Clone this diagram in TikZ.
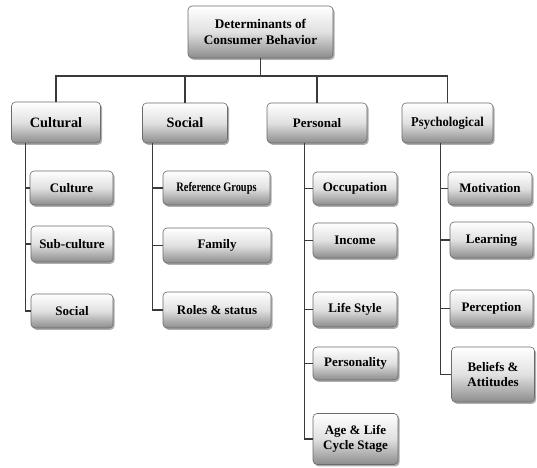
\documentclass[tikz,border=0pt]{standalone}
\usepackage{fontspec}
\usepackage{graphicx}
\setmainfont{Liberation Serif}
\usetikzlibrary{shadows}
\definecolor{linec}{HTML}{3A3A3A}
\tikzset{
  box/.style={draw=linec!75, line width=0.6pt, rounded corners=4pt,
    top color=white, bottom color=black!45, middle color=black!12,
    drop shadow={shadow xshift=1.6pt, shadow yshift=-1.8pt, opacity=0.45, fill=black!70},
    align=center, font=\bfseries\fontsize{13}{14.5}\selectfont, inner sep=2pt},
  lvl/.style={box, font=\bfseries\fontsize{14.3}{15.5}\selectfont},
  conn/.style={draw=linec, line width=1.1pt}
}
\begin{document}
\begin{tikzpicture}[x=1pt,y=-1pt]
\useasboundingbox (0,0) rectangle (537,467);
% top
\node[lvl, font=\bfseries\fontsize{13.2}{15.5}\selectfont, minimum width=145pt, minimum height=52pt] (top) at (260.5,32) {Determinants of\\Consumer Behavior};
% level 1
\node[lvl, minimum width=89pt, minimum height=41pt] (cult) at (56,122.5) {Cultural};
\node[lvl, minimum width=85pt, minimum height=40pt] (soc) at (185,123) {Social};
\node[lvl, font=\bfseries\fontsize{13}{15}\selectfont, minimum width=100pt, minimum height=40pt] (pers) at (317,123) {Personal};
\node[lvl, font=\bfseries\fontsize{13.5}{15}\selectfont, minimum width=91pt, minimum height=40pt] (psy) at (447.5,123) {\scalebox{0.93}[1]{Psychological}};
% bus
\coordinate (busL) at (56,76);
\coordinate (busR) at (447.5,76);
\draw[conn] (cult.north) -- (cult.north |- busL) -- (psy.north |- busR) -- (psy.north);
\draw[conn] (top.south) -- (top.south |- busL);
\draw[conn] (soc.north) -- (soc.north |- busL);
\draw[conn] (pers.north) -- (pers.north |- busL);
% cultural children
\node[box, minimum width=83pt, minimum height=34pt] (c1) at (71.5,188) {Culture};
\node[box, minimum width=82pt, minimum height=36pt] (c2) at (72,244) {Sub-culture};
\node[box, minimum width=82pt, minimum height=34pt] (c3) at (72,311) {Social};
% social children
\node[box, minimum width=107pt, minimum height=34pt] (s1) at (216.5,188) {\scalebox{0.8}[1]{Reference Groups}};
\node[box, minimum width=108pt, minimum height=35pt] (s2) at (217,245.5) {Family};
\node[box, minimum width=108pt, minimum height=36pt] (s3) at (217,310) {Roles \& status};
% personal children
\node[box, minimum width=84pt, minimum height=33pt] (p1) at (355,188.5) {Occupation};
\node[box, minimum width=84pt, minimum height=35pt] (p2) at (355,240.5) {Income};
\node[box, minimum width=84pt, minimum height=35pt] (p3) at (355,309.5) {Life Style};
\node[box, minimum width=85pt, minimum height=33pt] (p4) at (355.5,363.5) {Personality};
\node[box, minimum width=85pt, minimum height=51pt] (p5) at (355.5,439) {Age \& Life\\Cycle Stage};
% psychological children
\node[box, minimum width=84pt, minimum height=33pt] (y1) at (490,188.5) {Motivation};
\node[box, minimum width=83pt, minimum height=36pt] (y2) at (491.5,240) {Learning};
\node[box, minimum width=83pt, minimum height=37pt] (y3) at (491.5,308.5) {Perception};
\node[box, minimum width=83pt, minimum height=55pt] (y4) at (493,374.5) {Beliefs \&\\Attitudes};
% child connectors
\foreach \c in {c1,c2,c3}{\draw[conn] ([xshift=14pt]cult.south west) |- (\c.west);}
\foreach \c in {s1,s2,s3}{\draw[conn] ([xshift=10pt]soc.south west) |- (\c.west);}
\foreach \c in {p1,p2,p3,p4,p5}{\draw[conn] ([xshift=38pt]pers.south west) |- (\c.west);}
\foreach \c in {y1,y2,y3,y4}{\draw[conn] ([xshift=39pt]psy.south west) |- (\c.west);}
\end{tikzpicture}
\end{document}
